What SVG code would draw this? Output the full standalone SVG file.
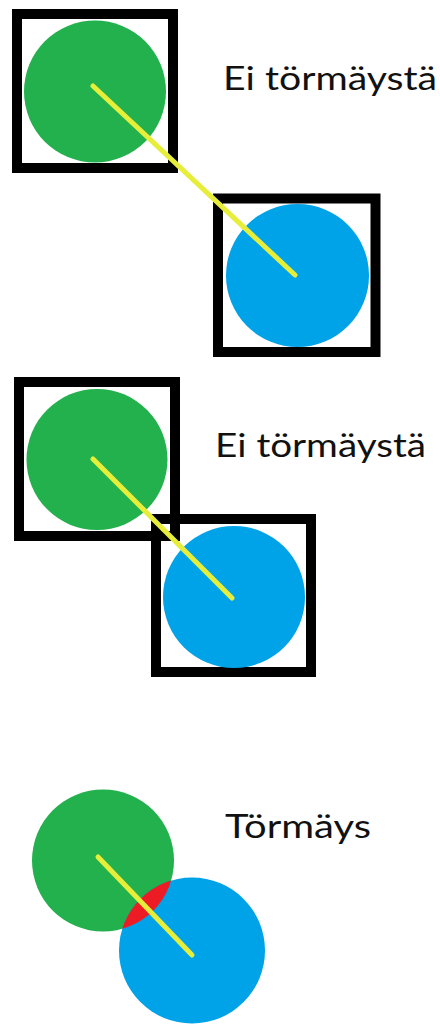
<svg xmlns="http://www.w3.org/2000/svg" width="440" height="1024" viewBox="0 0 440 1024">
  <style>
    .box { fill: none; stroke: #000; stroke-width: 10; }
    .green { fill: #22b14c; }
    .blue { fill: #00a2e8; }
    .hit { fill: #ed1c24; }
    .link { stroke: #e6ee3a; stroke-width: 5; stroke-linecap: round; }
    .label { font-family: Lato, "Open Sans", "Liberation Sans", sans-serif; font-size: 33px; fill: #111; }
  </style>
  <defs>
    <clipPath id="clipGreen3"><circle cx="103" cy="860.5" r="71"/></clipPath>
  </defs>
  <rect width="440" height="1024" fill="#fff"/>

  <!-- Scene 1 -->
  <g id="scene1-green">
    <rect class="box" x="17" y="14" width="156" height="154"/>
    <circle class="green" cx="95" cy="91.5" r="71"/>
  </g>
  <g id="scene1-blue">
    <rect class="box" x="218" y="198.5" width="157.5" height="153.5"/>
    <circle class="blue" cx="297.5" cy="275.5" r="71.5"/>
  </g>
  <text id="label1" class="label" x="223" y="90" textLength="214" lengthAdjust="spacingAndGlyphs">Ei törmäystä</text>

  <!-- Scene 2 -->
  <g id="scene2-green">
    <rect class="box" x="19" y="382" width="156" height="154"/>
    <circle class="green" cx="97" cy="459.5" r="70.5"/>
  </g>
  <g id="scene2-blue">
    <rect class="box" x="156" y="519" width="155" height="153"/>
    <circle class="blue" cx="234" cy="597" r="71"/>
  </g>
  <text id="label2" class="label" x="215" y="457" textLength="211" lengthAdjust="spacingAndGlyphs">Ei törmäystä</text>

  <!-- Scene 3 -->
  <g id="scene3-green">
    <circle class="green" cx="103" cy="860.5" r="71"/>
  </g>
  <g id="scene3-blue">
    <circle class="blue" cx="192" cy="950.5" r="73"/>
    <circle class="hit" cx="192" cy="950.5" r="73" clip-path="url(#clipGreen3)"/>
  </g>
  <text id="label3" class="label" x="225" y="838" textLength="146" lengthAdjust="spacingAndGlyphs">Törmäys</text>

  <g id="connectors">
    <line class="link" x1="93" y1="86" x2="295" y2="275"/>
    <line class="link" x1="93" y1="459" x2="232" y2="598"/>
    <line class="link" x1="98" y1="857" x2="192" y2="955"/>
  </g>
</svg>
